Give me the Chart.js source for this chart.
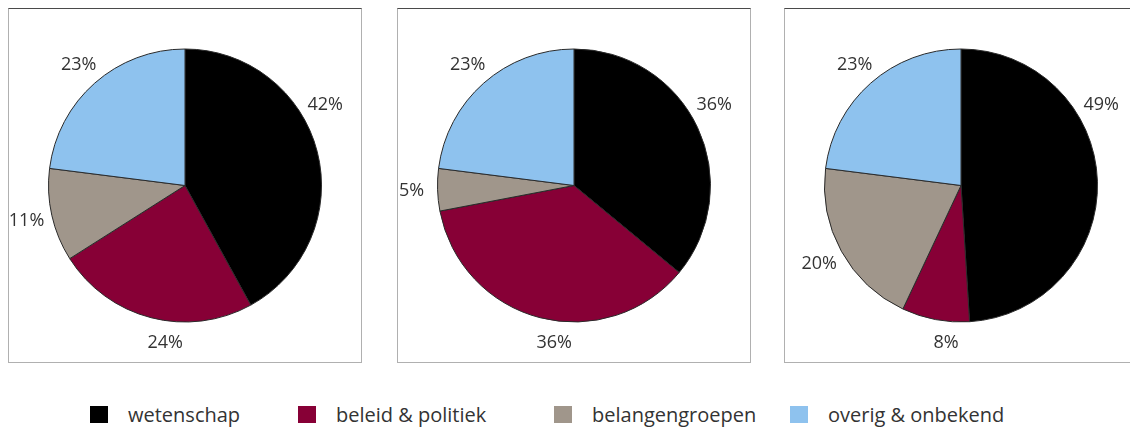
<!DOCTYPE html>
<html>
<head>
  <title>Verdeling bronnen</title>
  <script src="https://cdn.jsdelivr.net/npm/chart.js"></script>
  <style>
    body {
      margin: 0;
      background: #ffffff;
      width: 1130px;
      height: 432px;
      overflow: hidden;
      position: relative;
      font-family: 'Open Sans', Lato, sans-serif;
    }

    .box {
      position: absolute;
      top: 8px;
      width: 354px;
      height: 355px;
      border: 1px solid #b0b0b0;
      border-top-color: #4a4a4a;
      box-sizing: border-box;
    }

    .legend-item {
      position: absolute;
      top: 401px;
      display: flex;
      align-items: center;
      font-size: 20px;
      color: #333333;
    }

    .legend-item span.swatch {
      display: inline-block;
      width: 18px;
      height: 17px;
      margin-right: 20px;
    }
  </style>
</head>
<body>
  <div class="box" style="left: 8px;"><canvas id="pie1"></canvas></div>
  <div class="box" style="left: 397px;"><canvas id="pie2"></canvas></div>
  <div class="box" style="left: 784px;"><canvas id="pie3"></canvas></div>
  <div id="legend"></div>

  <script>
    // categories and values (percent), clockwise from 12 o'clock
    const categories = ['wetenschap', 'beleid & politiek', 'belangengroepen', 'overig & onbekend'];
    const pie1Values = [42, 24, 11, 23];
    const pie2Values = [36, 36, 5, 23];
    const pie3Values = [49, 8, 20, 23];

    const sliceColors = ['#000000', '#870036', '#a0968b', '#8ec2ee'];
    const legendLeft = [90, 298, 554, 790];

    // puts the percentage just outside each slice
    const outsideLabels = {
      id: 'outsideLabels',
      afterDatasetsDraw(chart) {
        const ctx = chart.ctx;
        const meta = chart.getDatasetMeta(0);
        const values = chart.data.datasets[0].data;
        ctx.save();
        ctx.font = '18px "Open Sans", Lato, sans-serif';
        ctx.fillStyle = '#333333';
        ctx.textAlign = 'center';
        ctx.textBaseline = 'middle';
        meta.data.forEach(function(arc, i) {
          const p = arc.getProps(['x', 'y', 'startAngle', 'endAngle', 'outerRadius'], true);
          // angle measured clockwise from the top
          let a = (p.startAngle + p.endAngle) / 2 + Math.PI / 2;
          if (a > Math.PI / 3 && a < Math.PI / 2) {
            a = Math.PI / 3; // keep the big right-hand label off the border
          }
          if (a > Math.PI * 5 / 6 && a < Math.PI * 7 / 6) {
            a = Math.PI + (a - Math.PI) / 2; // bottom labels sit closer to straight down
          }
          const dist = p.outerRadius + 21 + 5 * Math.abs(Math.sin(a));
          const x = p.x + dist * Math.sin(a);
          const y = p.y - dist * Math.cos(a);
          ctx.fillText(values[i] + '%', x, y);
        });
        ctx.restore();
      }
    };

    function createPie(canvasId, values) {
      const ctx = document.getElementById(canvasId).getContext('2d');
      return new Chart(ctx, {
        type: 'pie',
        data: {
          labels: categories,
          datasets: [{
            data: values,
            backgroundColor: sliceColors,
            borderColor: '#2a2a2a',
            borderWidth: 1
          }]
        },
        options: {
          responsive: true,
          maintainAspectRatio: false,
          animation: false,
          layout: {
            padding: 39
          },
          plugins: {
            legend: { display: false },
            tooltip: { enabled: false }
          }
        },
        plugins: [outsideLabels]
      });
    }

    createPie('pie1', pie1Values);
    createPie('pie2', pie2Values);
    createPie('pie3', pie3Values);

    const legend = document.getElementById('legend');
    categories.forEach(function(name, i) {
      const item = document.createElement('div');
      item.className = 'legend-item';
      item.style.left = legendLeft[i] + 'px';
      const swatch = document.createElement('span');
      swatch.className = 'swatch';
      swatch.style.background = sliceColors[i];
      item.appendChild(swatch);
      item.appendChild(document.createTextNode(name));
      legend.appendChild(item);
    });
  </script>
</body>
</html>
